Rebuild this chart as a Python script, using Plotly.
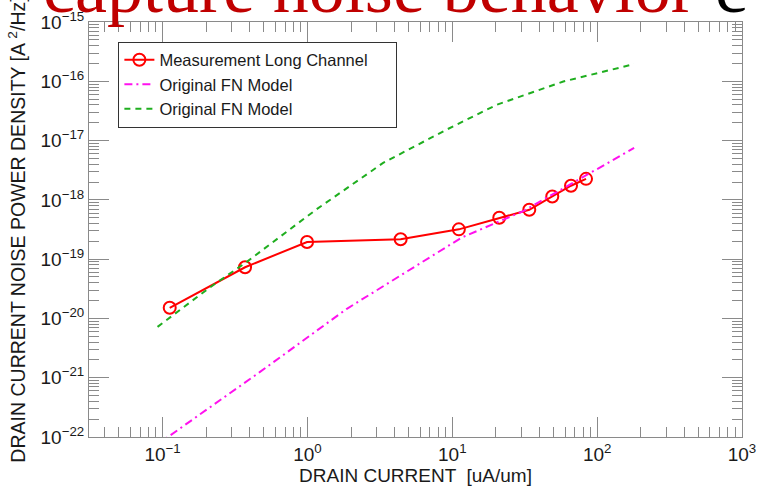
import plotly.graph_objects as go

# Measurement Long Channel
meas_x = [0.112, 0.371, 0.994, 4.40, 11.1, 21.1, 34.0, 49.0, 66.0, 83.8]
meas_y = [1.51e-20, 7.3e-20, 1.95e-19, 2.16e-19, 3.18e-19, 5.0e-19, 6.8e-19, 1.14e-18, 1.73e-18, 2.26e-18]

# Original FN Model (magenta, dash-dot)
fn1_x = [0.09, 0.123, 0.468, 1.86, 8.65, 11.6, 30.9, 180]
fn1_y = [7.2e-23, 1.24e-22, 1.24e-21, 1.44e-20, 1.47e-19, 2.31e-19, 6.46e-19, 7.5e-18]

# Original FN Model (green, dashed)
fn2_x = [0.0923, 0.211, 0.379, 1.153, 3.33, 9.13, 20.2, 58.4, 180]
fn2_y = [7.2e-21, 3.3e-20, 8.9e-20, 6.9e-19, 4.2e-18, 1.53e-17, 4.0e-17, 9.9e-17, 1.95e-16]

x_exponents = [-1, 0, 1, 2, 3]
y_exponents = [-22, -21, -20, -19, -18, -17, -16, -15]

names = ["Measurement Long Channel", "Original FN Model", "Original FN Model"]
x_title = "DRAIN CURRENT  [uA/um]"
y_title = "DRAIN CURRENT NOISE POWER DENSITY [A <sup>2</sup>/Hz]"
banner_red = "capture noise behavior"
banner_black = "c"

legend_pad = "\u00a0" * 5  # blank room at the right of the legend box


def exp_label(e):
    s = str(e).replace("-", "\u2212")
    return "10<sup>" + s + "</sup>"


fig = go.Figure()
fig.add_trace(go.Scatter(
    x=meas_x, y=meas_y, name=names[0] + legend_pad, mode="lines+markers",
    line=dict(color="#ff0000", width=2),
    marker=dict(symbol="circle-open", size=12, color="#ff0000", line=dict(width=2, color="#ff0000")),
))
fig.add_trace(go.Scatter(
    x=fn1_x, y=fn1_y, name=names[1], mode="lines",
    line=dict(color="#ff11ee", width=2, dash="8px,4px,2px,4px"),
))
fig.add_trace(go.Scatter(
    x=fn2_x, y=fn2_y, name=names[2], mode="lines",
    line=dict(color="#1fae1f", width=2, dash="6px,5px"),
))

axis_common = dict(
    type="log", showgrid=False, zeroline=False, showline=True, linecolor="#8a8a8a", linewidth=1,
    mirror="ticks", ticks="inside", ticklen=20, tickcolor="#8a8a8a", tickwidth=1,
    tickmode="array",
    tickfont=dict(family="Liberation Sans, Arial", size=19, color="#1a1a1a"),
    minor=dict(ticks="inside", ticklen=10, tickcolor="#8a8a8a", dtick="D1", showgrid=False),
    automargin=False,
)

fig.update_layout(
    width=757, height=490,
    template="none",
    paper_bgcolor="white", plot_bgcolor="white",
    margin=dict(l=89, r=15, t=22, b=53),
    showlegend=True,
    legend=dict(
        x=0.045, y=0.953, xanchor="left", yanchor="top",
        bgcolor="white", bordercolor="#333333", borderwidth=1,
        font=dict(family="Liberation Sans, Arial", size=16.5, color="#1a1a1a"),
        traceorder="normal",
    ),
    xaxis=dict(axis_common, range=[-1.508, 3],
               tickvals=[10.0 ** e for e in x_exponents],
               ticktext=[exp_label(e) for e in x_exponents],
               title=dict(text=x_title, font=dict(family="Liberation Sans, Arial", size=19, color="#1a1a1a"), standoff=0)),
    yaxis=dict(axis_common, range=[-22, -15],
               tickvals=[10.0 ** e for e in y_exponents],
               ticktext=[exp_label(e) for e in y_exponents],
               title=dict(text=y_title, font=dict(family="Liberation Sans, Arial", size=19.5, color="#1a1a1a"), standoff=9)),
)

fig.add_annotation(
    text=banner_red, xref="paper", yref="paper", x=(42 - 89.5) / 652.5, y=1.081,
    xanchor="left", yanchor="middle", showarrow=False,
    font=dict(family="Liberation Serif, Times New Roman", size=72, color="#c00000"),
)
fig.add_annotation(
    text=banner_black, xref="paper", yref="paper", x=(713 - 89.5) / 652.5, y=1.081,
    xanchor="left", yanchor="middle", showarrow=False,
    font=dict(family="Liberation Serif, Times New Roman", size=72, color="#000000"),
)

fig.write_html("out.html")
